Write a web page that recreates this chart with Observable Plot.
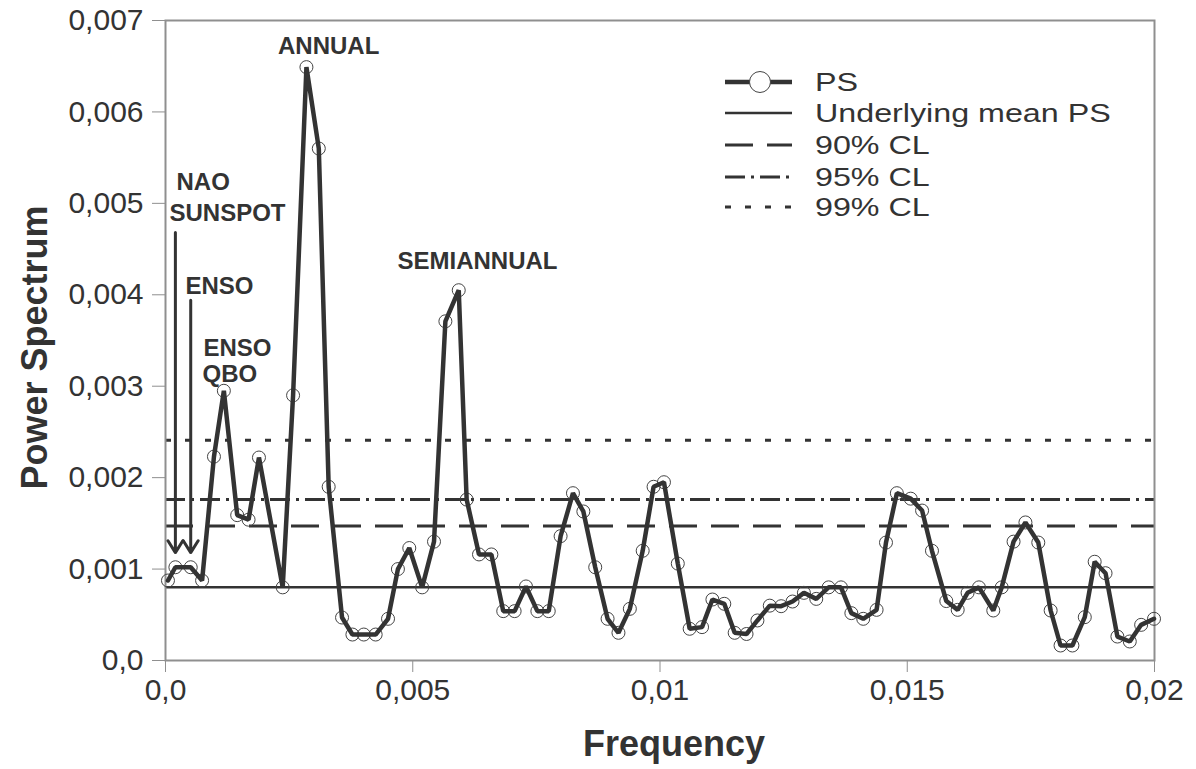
<!DOCTYPE html>
<html>
<head>
<meta charset="utf-8">
<script src="https://cdn.jsdelivr.net/npm/d3@7"></script>
<script src="https://cdn.jsdelivr.net/npm/@observablehq/plot@0.6"></script>
<style>
  html, body { margin: 0; padding: 0; background: #fff; }
  #wrap { position: relative; width: 1196px; height: 769px; font-family: "Liberation Sans", Arial, sans-serif; }
  #legend { position: absolute; left: 0; top: 0; width: 1196px; height: 769px; pointer-events: none; }
</style>
</head>
<body>
<div id="wrap"><div id="chart"></div><div id="legend"></div></div>
<script>
// ---- Data ----
const frequency = [
  0.00005, 0.00020, 0.00051, 0.00074, 0.00098, 0.00118, 0.00145, 0.00168, 0.00189, 0.00237,
  0.00258, 0.00285, 0.00310, 0.00330, 0.00357, 0.00378, 0.00401, 0.00425, 0.00450, 0.00470,
  0.00493, 0.00519, 0.00543, 0.00566, 0.00593, 0.00609, 0.00634, 0.00659, 0.00683, 0.00706,
  0.00729, 0.00752, 0.00775, 0.00799, 0.00824, 0.00845, 0.00869, 0.00894, 0.00916, 0.00939,
  0.00965, 0.00987, 0.01008, 0.01036, 0.01060, 0.01085, 0.01106, 0.01130, 0.01151, 0.01175,
  0.01197, 0.01222, 0.01245, 0.01268, 0.01291, 0.01316, 0.01341, 0.01366, 0.01387, 0.01411,
  0.01438, 0.01457, 0.01479, 0.01507, 0.01530, 0.01550, 0.01579, 0.01602, 0.01622, 0.01645,
  0.01674, 0.01691, 0.01715, 0.01739, 0.01765, 0.01790, 0.01810, 0.01834, 0.01859, 0.01879,
  0.01901, 0.01925, 0.01950, 0.01973, 0.01999
];
const powerSpectrum = [
  0.000875, 0.00102, 0.00102, 0.000875, 0.00223, 0.00295, 0.00159, 0.00154, 0.00222, 0.00080,
  0.00290, 0.00649, 0.00560, 0.00190, 0.00047, 0.000284, 0.000284, 0.000284, 0.000456, 0.00100,
  0.00123, 0.00080, 0.00130, 0.00371, 0.00405, 0.00176, 0.00116, 0.00116, 0.00054, 0.00054,
  0.00081, 0.00054, 0.00054, 0.00136, 0.00183, 0.00163, 0.00102, 0.000456, 0.000303, 0.000565,
  0.00120, 0.00190, 0.00195, 0.00106, 0.000347, 0.000365, 0.000667, 0.00062, 0.000303, 0.00029,
  0.000438, 0.00060, 0.000594, 0.000645, 0.00074, 0.000674, 0.00080, 0.00080, 0.000518, 0.000456,
  0.000554, 0.00129, 0.00183, 0.00177, 0.00164, 0.00120, 0.00065, 0.000554, 0.00074, 0.00080,
  0.000547, 0.00080, 0.00130, 0.00151, 0.00129, 0.000547, 0.000164, 0.000164, 0.000474, 0.00108,
  0.000955, 0.000262, 0.000208, 0.00039, 0.000456
];
const levelNames = ["Underlying mean PS", "90% CL", "95% CL", "99% CL"];
const levelValues = [0.00080, 0.00147, 0.00176, 0.00241];

const xTicks = [0, 0.005, 0.01, 0.015, 0.02];
const xTickLabels = ["0,0", "0,005", "0,01", "0,015", "0,02"];
const yTicks = [0, 0.001, 0.002, 0.003, 0.004, 0.005, 0.006, 0.007];
const yTickLabels = ["0,0", "0,001", "0,002", "0,003", "0,004", "0,005", "0,006", "0,007"];

const labelText = ["NAO", "SUNSPOT", "ENSO", "ENSO", "QBO"];
const labelX = [0.000222, 0.000081, 0.000404, 0.000768, 0.000748];
const labelY = [0.00523, 0.00489, 0.00409, 0.00341, 0.00313];
const peakText = ["ANNUAL", "SEMIANNUAL"];
const peakX = [0.00330, 0.00631];
const peakY = [0.00672, 0.00437];

const arrowX = [0.00020, 0.00051];
const arrowTop = [0.00468, 0.00394];
const arrowTip = [0.00118, 0.00118];

// ---- Tables ----
const ps = frequency.map((f, i) => ({f, p: powerSpectrum[i]}));
const labels = labelText.map((t, i) => ({t, x: labelX[i], y: labelY[i]}));
const peaks = peakText.map((t, i) => ({t, x: peakX[i], y: peakY[i]}));
const arrows = arrowX.map((x, i) => ({x, y1: arrowTop[i], y2: arrowTip[i]}));

const INK = "#333333";
const AXIS = "#8f8f8f";
const dashes = [null, "28 14", "20 6 3 6", "6 14"];
const widths = [2.5, 3, 3, 3];
const lookup = (ticks, labs) => d => labs[ticks.findIndex(t => Math.abs(t - d) < 1e-12)];

const chart = Plot.plot({
  width: 1196,
  height: 769,
  marginLeft: 165,
  marginRight: 42,
  marginTop: 20,
  marginBottom: 109,
  x: {domain: [0, 0.02]},
  y: {domain: [0, 0.007]},
  style: {fontFamily: '"Liberation Sans", Arial, sans-serif', fontSize: "30px", color: INK, background: "white"},
  marks: [
    ...levelValues.map((v, i) => Plot.ruleY([v], {stroke: INK, strokeWidth: widths[i], strokeDasharray: dashes[i]})),
    Plot.frame({stroke: AXIS, strokeWidth: 2}),
    Plot.axisX({ticks: xTicks, tickFormat: lookup(xTicks, xTickLabels), tickSize: 12, tickPadding: 6, stroke: AXIS, fill: INK, label: null, fontSize: 30}),
    Plot.axisY({ticks: yTicks, tickFormat: lookup(yTicks, yTickLabels), tickSize: 13, tickPadding: 9, stroke: AXIS, fill: INK, label: null, fontSize: 30}),
    Plot.dot(ps, {x: "f", y: "p", r: 6.5, stroke: "#444", strokeWidth: 1, fill: "none"}),
    Plot.line(ps, {x: "f", y: "p", stroke: INK, strokeWidth: 4.5, strokeLinejoin: "miter"}),
    Plot.arrow(arrows, {x1: "x", x2: "x", y1: "y1", y2: "y2", stroke: INK, strokeWidth: 3, headLength: 7, headAngle: 64}),
    Plot.text(labels, {x: "x", y: "y", text: "t", textAnchor: "start", fontWeight: "bold", fontSize: 24, fill: INK}),
    Plot.text(peaks, {x: "x", y: "y", text: "t", textAnchor: "middle", fontWeight: "bold", fontSize: 24, fill: INK}),
    Plot.text(["Power Spectrum"], {frameAnchor: "left", textAnchor: "middle", dx: -130, dy: 7, rotate: -90, fontWeight: "bold", fontSize: 36, fill: INK}),
    Plot.text(["Frequency"], {frameAnchor: "bottom", textAnchor: "middle", dx: 14, dy: 95, fontWeight: "bold", fontSize: 36, fill: INK})
  ]
});
document.getElementById("chart").appendChild(chart);

// ---- Legend (overlay) ----
const legendNames = ["PS", ...levelNames];
const legendRowY = [82, 113, 145, 177, 207];
const leg = d3.select("#legend").append("svg").attr("width", 1196).attr("height", 769)
  .style("position", "absolute").style("left", 0).style("top", 0);
legendNames.forEach((name, i) => {
  const y = legendRowY[i];
  const line = leg.append("line").attr("x1", 725).attr("x2", 792).attr("y1", y).attr("y2", y)
    .attr("stroke", INK);
  if (i === 0) {
    line.attr("stroke-width", 4.5);
    leg.append("circle").attr("cx", 760).attr("cy", y).attr("r", 10.5)
      .attr("fill", "white").attr("stroke", "#444").attr("stroke-width", 1);
  } else {
    line.attr("stroke-width", widths[i - 1]);
    if (dashes[i - 1]) line.attr("stroke-dasharray", i === 1 ? "27 13" : dashes[i - 1]);
  }
  const t = leg.append("text").attr("x", 815).attr("y", y).attr("dy", "0.35em")
    .attr("font-family", '"Liberation Sans", Arial, sans-serif').attr("font-size", 26)
    .attr("fill", INK).text(name);
  const natural = t.node().getComputedTextLength();
  if (natural > 0) t.attr("textLength", natural * 1.24).attr("lengthAdjust", "spacingAndGlyphs");
});
</script>
</body>
</html>
